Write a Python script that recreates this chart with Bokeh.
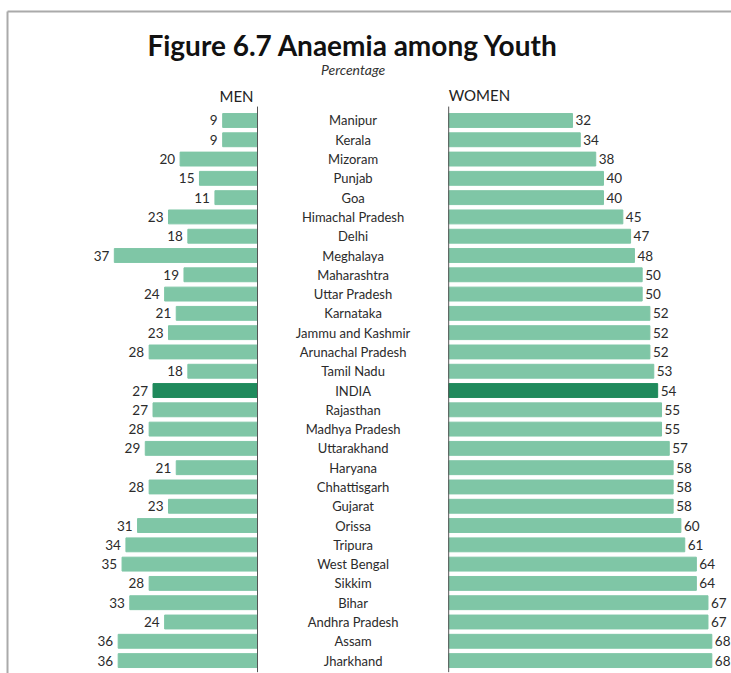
from bokeh.plotting import figure
from bokeh.models import ColumnDataSource, Range1d, Label
from bokeh.embed import file_html
from bokeh.resources import INLINE
from bokeh.core.properties import value

states = ["Manipur", "Kerala", "Mizoram", "Punjab", "Goa", "Himachal Pradesh", "Delhi",
          "Meghalaya", "Maharashtra", "Uttar Pradesh", "Karnataka", "Jammu and Kashmir",
          "Arunachal Pradesh", "Tamil Nadu", "INDIA", "Rajasthan", "Madhya Pradesh",
          "Uttarakhand", "Haryana", "Chhattisgarh", "Gujarat", "Orissa", "Tripura",
          "West Bengal", "Sikkim", "Bihar", "Andhra Pradesh", "Assam", "Jharkhand"]
men = [9, 9, 20, 15, 11, 23, 18, 37, 19, 24, 21, 23, 28, 18, 27, 27, 28, 29, 21, 28,
       23, 31, 34, 35, 28, 33, 24, 36, 36]
women = [32, 34, 38, 40, 40, 45, 47, 48, 50, 50, 52, 52, 52, 53, 54, 55, 55, 57, 58, 58,
         58, 60, 61, 64, 64, 67, 67, 68, 68]

LIGHT = "#7fc6a6"
DARK = "#1f8a5c"
GAP = 49.4          # width of the centre column, in percentage units
FONT = "Lato"

n = len(states)
rows = list(range(n))
colors = [DARK if s == "INDIA" else LIGHT for s in states]

src = ColumnDataSource(dict(
    y=rows,
    state=states,
    men_left=[-v for v in men],
    zero=[0] * n,
    gap=[GAP] * n,
    women_right=[GAP + v for v in women],
    men_txt=[str(v) for v in men],
    women_txt=[str(v) for v in women],
    mid=[GAP / 2] * n,
    color=colors,
))

W, H = 731, 673
X0, X1 = -66.41, 122.48
Y_BOTTOM, Y_TOP = 28.67, -6.22
p = figure(width=W, height=H, output_backend="svg", toolbar_location=None,
           x_range=Range1d(X0, X1), y_range=Range1d(Y_BOTTOM, Y_TOP),
           min_border=0, min_border_left=0, min_border_right=0,
           min_border_top=0, min_border_bottom=0)
p.axis.visible = False
p.grid.visible = False
p.outline_line_color = None
p.background_fill_color = "white"
p.border_fill_color = "white"

bh = 0.72
p.hbar(y="y", left="men_left", right="zero", height=bh, color="color", source=src)
p.hbar(y="y", left="gap", right="women_right", height=bh, color="color", source=src)

# axis lines
p.segment(x0=[0, GAP], y0=[-0.72, -0.72], x1=[0, GAP], y1=[28.6, 28.6],
          line_color="#555555", line_width=1)

txt_color = "#2b2b2b"
p.text(x="men_left", y="y", text="men_txt", source=src, text_align="right",
       text_baseline="middle", x_offset=-5, text_font=value(FONT),
       text_font_size="13.5px", text_color=txt_color)
p.text(x="women_right", y="y", text="women_txt", source=src, text_align="left",
       text_baseline="middle", x_offset=3, text_font=value(FONT),
       text_font_size="13.5px", text_color=txt_color)
p.text(x="mid", y="y", text="state", source=src, text_align="center",
       text_baseline="middle", text_font=value(FONT),
       text_font_size="13px", text_color=txt_color)

p.add_layout(Label(x=GAP / 2, y=-3.9, text="Figure 6.7 Anaemia among Youth",
                   text_align="center", text_baseline="middle", text_font=FONT,
                   text_font_style="bold", text_font_size="28px", text_color="#111111"))
p.add_layout(Label(x=GAP / 2, y=-2.65, text="Percentage", text_align="center",
                   text_baseline="middle", text_font=FONT, text_font_style="italic",
                   text_font_size="14px", text_color="#333333"))
p.add_layout(Label(x=0, y=-1.25, x_offset=-4, text="MEN", text_align="right",
                   text_baseline="middle", text_font=FONT,
                   text_font_size="15px", text_color="#222222"))
p.add_layout(Label(x=GAP, y=-1.3, text="WOMEN", text_align="left",
                   text_baseline="middle", text_font=FONT,
                   text_font_size="15px", text_color="#222222"))

# frame border (top and left)
BX, BY = -64.6, -5.65
p.segment(x0=[BX, BX], y0=[BY, BY], x1=[X1, BX], y1=[BY, Y_BOTTOM],
          line_color="#aaaaaa", line_width=2)

open("out.html", "w").write(file_html(p, INLINE))
